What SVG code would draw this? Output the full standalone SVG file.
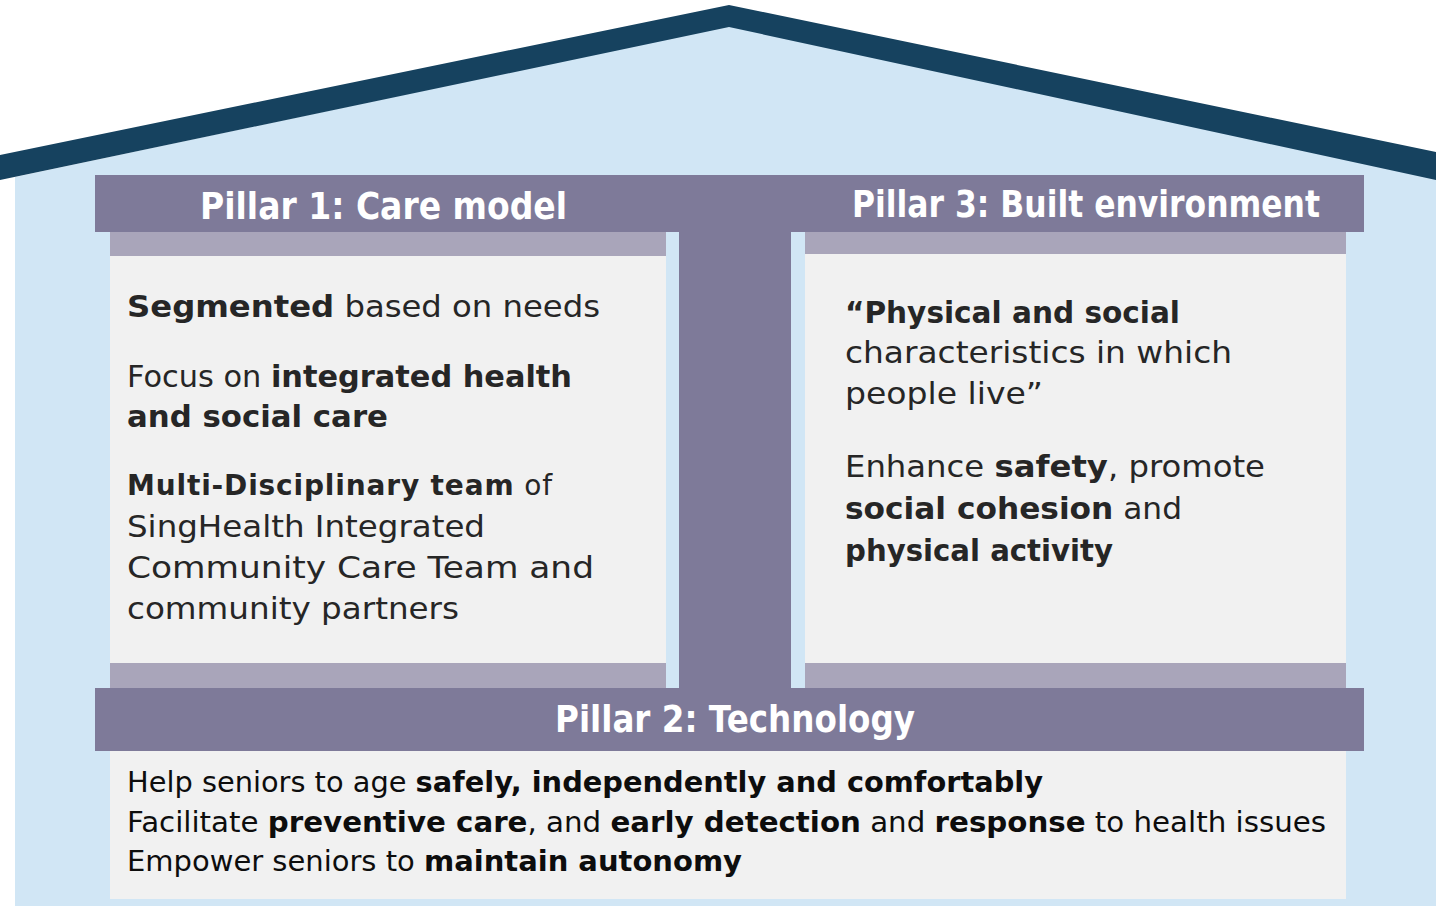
<svg xmlns="http://www.w3.org/2000/svg" width="1436" height="906" viewBox="0 0 1436 906">
  <style>
    .sky{fill:#D1E6F5}
    .roof{fill:#16425F}
    .bar{fill:#7E7A99}
    .strip{fill:#A9A5BA}
    .panel{fill:#F1F1F1}
    .hdr{font-family:"DejaVu Sans","Liberation Sans",sans-serif;font-weight:bold;font-size:38px;fill:#FFFFFF}
    .txt{font-family:"DejaVu Sans","Liberation Sans",sans-serif;font-size:30px;fill:#262626}
    .btxt{font-family:"DejaVu Sans","Liberation Sans",sans-serif;font-size:28px;fill:#0D0D0D}
    .b{font-weight:bold}
  </style>
  <rect width="1436" height="906" fill="#FFFFFF"/>
  <g id="house">
    <polygon class="sky" points="15,177 729,26 1436,178 1436,906 15,906"/>
    <polygon class="roof" points="0,155 729,5 1436,152 1436,180 729,27 0,180"/>
  </g>
  <g id="frame">
    <rect class="bar" x="95" y="175" width="1269" height="57"/>
    <rect class="bar" x="679" y="232" width="112" height="456"/>
  </g>
  <g id="pillar1">
    <rect class="strip" x="110" y="232" width="556" height="24"/>
    <rect class="panel" x="110" y="256" width="556" height="407"/>
    <rect class="strip" x="110" y="663" width="556" height="25"/>
    <text class="hdr" x="200" y="219" textLength="367" lengthAdjust="spacingAndGlyphs">Pillar 1: Care model</text>
    <text class="txt" x="127" y="317" textLength="473" lengthAdjust="spacingAndGlyphs"><tspan class="b">Segmented</tspan> based on needs</text>
    <text class="txt" x="127" y="387" textLength="445" lengthAdjust="spacingAndGlyphs">Focus on <tspan class="b">integrated health</tspan></text>
    <text class="txt" x="127" y="427" textLength="261" lengthAdjust="spacingAndGlyphs"><tspan class="b">and social care</tspan></text>
    <text class="txt" x="127" y="495" style="font-size:28px" textLength="425" lengthAdjust="spacing"><tspan class="b">Multi-Disciplinary team</tspan> of</text>
    <text class="txt" x="127" y="537" textLength="358" lengthAdjust="spacingAndGlyphs">SingHealth Integrated</text>
    <text class="txt" x="127" y="578" textLength="467" lengthAdjust="spacingAndGlyphs">Community Care Team and</text>
    <text class="txt" x="127" y="619" textLength="332" lengthAdjust="spacingAndGlyphs">community partners</text>
  </g>
  <g id="pillar3">
    <rect class="strip" x="805" y="232" width="541" height="22"/>
    <rect class="panel" x="805" y="254" width="541" height="409"/>
    <rect class="strip" x="805" y="663" width="541" height="25"/>
    <text class="hdr" x="852" y="217" textLength="468" lengthAdjust="spacingAndGlyphs">Pillar 3: Built environment</text>
    <text class="txt" x="845" y="323" textLength="335" lengthAdjust="spacingAndGlyphs"><tspan class="b">“Physical and social</tspan></text>
    <text class="txt" x="845" y="363" textLength="387" lengthAdjust="spacingAndGlyphs">characteristics in which</text>
    <text class="txt" x="845" y="404" textLength="198" lengthAdjust="spacingAndGlyphs">people live”</text>
    <text class="txt" x="845" y="477" textLength="420" lengthAdjust="spacingAndGlyphs">Enhance <tspan class="b">safety</tspan>, promote</text>
    <text class="txt" x="845" y="519" textLength="337" lengthAdjust="spacingAndGlyphs"><tspan class="b">social cohesion</tspan> and</text>
    <text class="txt" x="845" y="561" textLength="268" lengthAdjust="spacingAndGlyphs"><tspan class="b">physical activity</tspan></text>
  </g>
  <g id="pillar2">
    <rect class="bar" x="95" y="688" width="1269" height="63"/>
    <rect class="panel" x="110" y="751" width="1236" height="148"/>
    <text class="hdr" x="555" y="732" textLength="360" lengthAdjust="spacingAndGlyphs">Pillar 2: Technology</text>
    <text class="btxt" x="127" y="792" textLength="916" lengthAdjust="spacingAndGlyphs">Help seniors to age <tspan class="b">safely, independently and comfortably</tspan></text>
    <text class="btxt" x="127" y="832" textLength="1199" lengthAdjust="spacingAndGlyphs">Facilitate <tspan class="b">preventive care</tspan>, and <tspan class="b">early detection</tspan> and <tspan class="b">response</tspan> to health issues</text>
    <text class="btxt" x="127" y="871" textLength="615" lengthAdjust="spacingAndGlyphs">Empower seniors to <tspan class="b">maintain autonomy</tspan></text>
  </g>
</svg>
